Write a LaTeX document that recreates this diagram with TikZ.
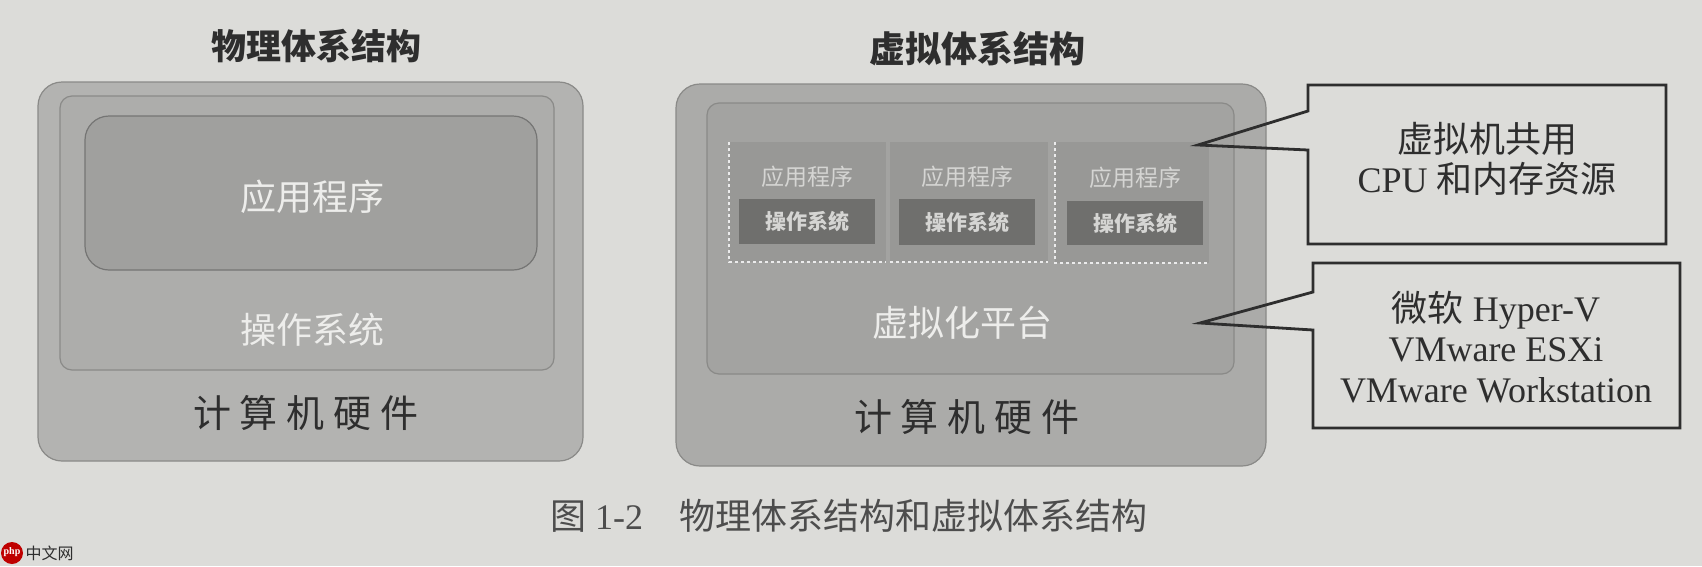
\documentclass[tikz,border=0pt]{standalone}
\usepackage{fontspec}
\setmainfont{Liberation Serif}
\newfontfamily\hei{Noto Sans CJK SC}
\usetikzlibrary{calc}
\definecolor{paper}{HTML}{DCDCD9}
\definecolor{hwfill}{HTML}{B3B3B1}
\definecolor{osfill}{HTML}{ADADAB}
\definecolor{appfill}{HTML}{A0A09E}
\definecolor{rhwfill}{HTML}{ABABA9}
\definecolor{platfill}{HTML}{A3A3A1}
\definecolor{vmfill}{HTML}{989896}
\definecolor{vmosfill}{HTML}{6F6F6D}
\definecolor{edge}{HTML}{8A8A88}
\definecolor{ink}{HTML}{2E2E2E}
\definecolor{pale}{HTML}{EDEDEB}
\begin{document}
\begin{tikzpicture}[x=1pt,y=-1pt,
  box/.style={draw=edge,line width=1.2pt,anchor=north west,inner sep=0pt,outer sep=0pt},
  bigr/.style={rounded corners=24pt},
  smallr/.style={rounded corners=12pt},
  title/.style={font=\hei\bfseries\fontsize{35}{38}\selectfont,text=ink},
  palelbl/.style={font=\hei\fontsize{36}{40}\selectfont,text=pale},
  hwlbl/.style={font=\hei\fontsize{38}{42}\selectfont,text=ink},
  vmapp/.style={font=\hei\fontsize{23}{26}\selectfont,text=pale!90!black},
  vmos/.style={font=\hei\bfseries\fontsize{21}{24}\selectfont,text=pale!90!black},
  vmbox/.style={fill=vmfill,anchor=north west,inner sep=0pt,outer sep=0pt},
  osbox/.style={fill=vmosfill,anchor=north west,inner sep=0pt,outer sep=0pt},
  vmdash/.style={draw=white!92!black,line width=1.2pt,dashed},
  callbox/.style={anchor=north west,inner sep=0pt,outer sep=0pt},
  callline/.style={draw=ink,line width=2.8pt,line join=miter},
  calltext/.style={align=center,text=ink,font=\fontsize{36}{40.5}\selectfont}
]
\fill[paper] (0,0) rectangle (1702,566);
\useasboundingbox (0,0) rectangle (1702,566);

% ---------------- physical architecture ----------------
\node[title] (ltitle) at (316,46) {物理体系结构};
\node[box,bigr,fill=hwfill,minimum width=545pt,minimum height=379pt] (lhw) at (38,82) {};
\node[box,smallr,fill=osfill,minimum width=494pt,minimum height=274pt] (los) at (60,96) {};
\node[box,bigr,fill=appfill,draw=edge!85!black,minimum width=452pt,minimum height=154pt] (lapp) at (85,116) {};
\node[palelbl] (lapptxt) at (312,197) {应用程序};
\node[palelbl] (lostxt) at (312,330) {操作系统};
\node[hwlbl] (lhwtxt) at (306,413) {计\hspace{9pt}算\hspace{9pt}机\hspace{9pt}硬\hspace{9pt}件};

% ---------------- virtual architecture ----------------
\node[title,font=\hei\bfseries\fontsize{36}{40}\selectfont] (rtitle) at (977,49) {虚拟体系结构};
\node[box,bigr,fill=rhwfill,minimum width=590pt,minimum height=382pt] (rhw) at (676,84) {};
\node[box,smallr,fill=platfill,minimum width=527pt,minimum height=271pt] (plat) at (707,103) {};

\node[vmbox,minimum width=157pt,minimum height=120pt] (vm1) at (729,142) {};
\node[vmbox,minimum width=158pt,minimum height=120pt] (vm2) at (890,142) {};
\node[vmbox,minimum width=154pt,minimum height=121pt] (vm3) at (1055,142) {};
\draw[vmdash] (vm1.north west) -- (vm1.south west) -- (vm1.south east);
\draw[vmdash] (vm2.south west) -- (vm2.south east);
\draw[vmdash] (vm3.north west) -- (vm3.south west) -- (vm3.south east);

\node[osbox,minimum width=136pt,minimum height=45pt] (os1) at (739,199) {};
\node[osbox,minimum width=136pt,minimum height=46pt] (os2) at (899,199) {};
\node[osbox,minimum width=136pt,minimum height=44pt] (os3) at (1067,201) {};

\node[vmapp] (app1t) at (807,177) {应用程序};
\node[vmapp] (app2t) at (967,177) {应用程序};
\node[vmapp] (app3t) at (1135,178) {应用程序};
\node[vmos] (os1t) at (os1) {操作系统};
\node[vmos] (os2t) at (os2) {操作系统};
\node[vmos] (os3t) at (os3) {操作系统};

\node[palelbl] (plattxt) at (962,323) {虚拟化平台};
\node[hwlbl] (rhwtxt) at (967,417) {计\hspace{9pt}算\hspace{9pt}机\hspace{9pt}硬\hspace{9pt}件};

% ---------------- callouts ----------------
\node[callbox,minimum width=358pt,minimum height=159pt] (c1) at (1308,85) {};
\coordinate (t1) at (1198,145);
\draw[callline] ($(c1.north west)+(0,26)$) -- (c1.north west) -- (c1.north east)
  -- (c1.south east) -- (c1.south west) -- ($(c1.north west)+(0,65)$) -- (t1) -- cycle;
\node[calltext] (c1t) at (1487,159) {{\hei 虚拟机共用}\\CPU {\hei 和内存资源}};

\node[callbox,minimum width=367pt,minimum height=165pt] (c2) at (1313,263) {};
\coordinate (t2) at (1200,323);
\draw[callline] ($(c2.north west)+(0,29)$) -- (c2.north west) -- (c2.north east)
  -- (c2.south east) -- (c2.south west) -- ($(c2.north west)+(0,67)$) -- (t2) -- cycle;
\node[calltext] (c2t) at (1496,347) {{\hei 微软} Hyper-V\\VMware ESXi\\VMware Workstation};

% ---------------- caption ----------------
\node[text=ink!85!white,font=\hei\fontsize{36}{40}\selectfont] (cap) at (849,516)
  {图 {\rmfamily 1-2}\hspace{36pt}物理体系结构和虚拟体系结构};

% ---------------- watermark ----------------
\fill[red!75!black] (12,553) circle (11pt);
\node[text=white,font=\rmfamily\bfseries\fontsize{10}{10}\selectfont] (wmp) at (12,552) {php};
\node[text=ink,font=\hei\fontsize{16}{16}\selectfont,anchor=west] (wmt) at (22,553) {中文网};
\end{tikzpicture}
\end{document}
